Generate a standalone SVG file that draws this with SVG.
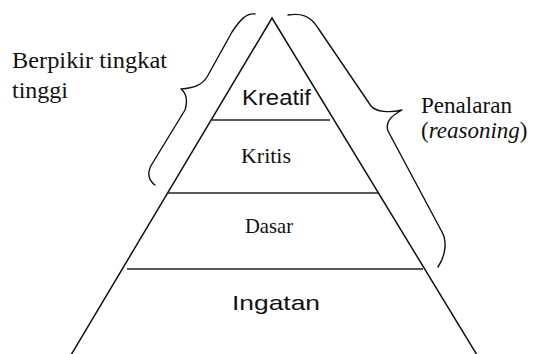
<svg xmlns="http://www.w3.org/2000/svg" width="538" height="354" viewBox="0 0 538 354">
<style>
.ln{stroke:#111;stroke-width:1.5;fill:none;stroke-linecap:round}
.sep{stroke:#222;stroke-width:1.6;fill:none}
.br{stroke:#111;stroke-width:1.4;fill:none;stroke-linecap:round;stroke-linejoin:round}
text{fill:#111;font-weight:normal}
.sf{font-family:"Liberation Serif","Times New Roman",Times,serif}
.ss{font-family:"Liberation Sans",Arial,sans-serif}
</style>
<rect width="538" height="354" fill="#fff"/>
<g id="pyramid">
<path class="ln" d="M71,355 L272,18 L477,355"/>
</g>
<g id="connectors">
<line class="sep" x1="212" y1="120" x2="330" y2="120"/>
<line class="sep" x1="168" y1="193" x2="378" y2="193"/>
<line class="sep" x1="127" y1="269" x2="423" y2="269"/>
</g>
<g id="level-kreatif">
<text class="ss" x="242" y="105" font-size="22" textLength="69" lengthAdjust="spacingAndGlyphs">Kreatif</text>
</g>
<g id="level-kritis">
<text class="sf" x="241" y="163" font-size="22" textLength="50" lengthAdjust="spacingAndGlyphs">Kritis</text>
</g>
<g id="level-dasar">
<text class="sf" x="245" y="233" font-size="22" textLength="48" lengthAdjust="spacingAndGlyphs">Dasar</text>
</g>
<g id="level-ingatan">
<text class="ss" x="232" y="310" font-size="21" textLength="88" lengthAdjust="spacingAndGlyphs">Ingatan</text>
</g>
<g id="brace-left">
<path class="br" d="M255,14 C246,13 240,20 232,32 L207,77 C202,85 194,88 181,89 C186,93 188,100 185,110 L152,164 C147,172 148,180 155,185"/>
<text class="sf" x="12" y="68" font-size="24" textLength="155" lengthAdjust="spacingAndGlyphs">Berpikir tingkat</text>
<text class="sf" x="12" y="98" font-size="24">tinggi</text>
</g>
<g id="brace-right">
<path class="br" d="M288,15 C300,13 310,15 318,28 L371,106 C376,112 390,113 402,110 C391,116 385,122 388,131 L442,232 C447,241 446,255 438,267"/>
<text class="sf" x="421" y="113" font-size="23" textLength="91" lengthAdjust="spacingAndGlyphs">Penalaran</text>
<text class="sf" x="421" y="138" font-size="23">(<tspan font-style="italic">reasoning</tspan>)</text>
</g>
</svg>
